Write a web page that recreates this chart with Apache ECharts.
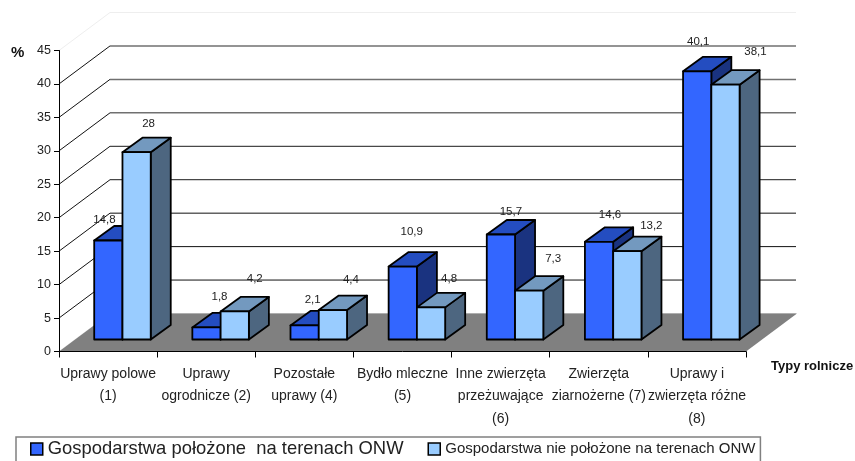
<!DOCTYPE html>
<html><head><meta charset="utf-8">
<style>html,body{margin:0;padding:0;background:#fff}#c{width:855px;height:461px}</style>
<script src="https://cdn.jsdelivr.net/npm/echarts@6/dist/echarts.min.js"></script>
</head><body><div id="c"></div>
<script>
const categories = ['Uprawy polowe\n(1)','Uprawy\nogrodnicze (2)','Pozostałe\nuprawy (4)','Bydło mleczne\n(5)','Inne zwierzęta\nprzeżuwające\n(6)','Zwierzęta\nziarnożerne (7)','Uprawy i\nzwierzęta różne\n(8)'];
const seriesOnw = [14.8,1.8,2.1,10.9,15.7,14.6,40.1];
const seriesNonOnw = [28,4.2,4.4,4.8,7.3,13.2,38.1];
const nameOnw = 'Gospodarstwa położone  na terenach ONW';
const nameNonOnw = 'Gospodarstwa nie położone na terenach ONW';
const yTicks = [0,5,10,15,20,25,30,35,40,45];
// label nudges (px from the front face's top centre)
const nudgeOnw = [[-4,-21],[13,-31],[8,-26],[9,-35],[10,-23],[11,-28],[1,-30]];
const nudgeNonOnw = [[12,-29],[20,-33],[18,-31],[18,-29],[24,-32],[24,-26],[30,-33]];

const WALL_DX = 51, WALL_DY = -38;      // projected depth of the whole floor
const BAR_DX = 20, BAR_DY = -14.5;      // projected depth of one bar
const BASE_DY = -12;                    // bars stand this far back on the floor
const BAR_SHIFT = 14.4, BAR_RATIO = 0.288;

function gridStyle(v){
  if (v === 45) return {stroke:'#eeeeee', lineWidth:1};
  if (v === 0) return {stroke:'#dddddd', lineWidth:1};
  if (v >= 30) return {stroke:'#707070', lineWidth:1.5};
  if (v >= 20) return {stroke:'#484848', lineWidth:1.2};
  return {stroke:'#111111', lineWidth:1};
}
function wallItem(params, api){
  const v = api.value(1), band = api.size([1,0])[0];
  const p0 = api.coord([0,v]), p1 = api.coord([categories.length-1,v]);
  const xl = p0[0]-band/2, xr = p1[0]+band/2, y = p0[1];
  const st = gridStyle(v);
  return {type:'group', children:[
    {type:'polyline', shape:{points:[[xl,y],[xl+WALL_DX,y+WALL_DY]]},
      style:{stroke: v===45||v===0 ? '#eeeeee' : '#111111', lineWidth:1, fill:null}},
    {type:'polyline', shape:{points:[[xl+WALL_DX,y+WALL_DY],[xr+WALL_DX-1,y+WALL_DY]]},
      style:Object.assign({fill:null},st)}
  ]};
}
function floorItem(params, api){
  const band = api.size([1,0])[0];
  const p0 = api.coord([0,0]), p1 = api.coord([categories.length-1,0]);
  const xl = p0[0]-band/2, xr = p1[0]+band/2, y = p0[1];
  return {type:'polygon', shape:{points:[[xl,y],[xr,y],[xr+WALL_DX,y+WALL_DY],[xl+WALL_DX,y+WALL_DY]]},
    style:{fill:'#808080'}};
}
function makeBar(slot, colors, nudges){
  return function(params, api){
    const cat = api.value(0), v = api.value(1);
    const band = api.size([1,0])[0], w = band*BAR_RATIO;
    const base = api.coord([cat,0]), top = api.coord([cat,v]);
    const x0 = base[0]+BAR_SHIFT-w+slot*w, x1 = x0+w;
    const yb = base[1]+BASE_DY, yt = top[1]+BASE_DY;
    const edge = {stroke:'#000', lineWidth:1.8, lineJoin:'round'};
    const n = nudges[cat];
    return {type:'group', children:[
      {type:'polygon', shape:{points:[[x1,yb],[x1+BAR_DX,yb+BAR_DY],[x1+BAR_DX,yt+BAR_DY],[x1,yt]]},
        style:Object.assign({fill:colors.side},edge)},
      {type:'polygon', shape:{points:[[x0,yt],[x1,yt],[x1+BAR_DX,yt+BAR_DY],[x0+BAR_DX,yt+BAR_DY]]},
        style:Object.assign({fill:colors.top},edge)},
      {type:'polygon', shape:{points:[[x0,yb],[x1,yb],[x1,yt],[x0,yt]]},
        style:Object.assign({fill:colors.front},edge)},
      {type:'text', z2:50, style:{text:String(v).replace('.',','), x:(x0+x1)/2+n[0], y:yt+n[1]+0.5,
        textAlign:'center', textVerticalAlign:'middle', fill:'#222', font:'11.5px "Liberation Sans"'}}
    ]};
  };
}
const blue = {front:'#3366ff', top:'#244dc0', side:'#1a3380'};
const sky = {front:'#99ccff', top:'#7399bf', side:'#4d6680'};

const chart = echarts.init(document.getElementById('c'), null, {renderer:'canvas'});
chart.setOption({
  animation:false,
  backgroundColor:'#fff',
  textStyle:{fontFamily:'"Liberation Sans"'},
  grid:{left:59, top:50.5, width:687, height:301, containLabel:false},
  xAxis:{type:'category', data:categories, z:10,
    axisLine:{lineStyle:{color:'#000', width:1}},
    axisTick:{show:true, length:6, alignWithLabel:false, lineStyle:{color:'#000'}},
    axisLabel:{interval:0, margin:11.5, fontSize:14, lineHeight:22.4, color:'#222', hideOverlap:false},
    splitLine:{show:false}},
  yAxis:{type:'value', min:0, max:45, interval:5, z:10,
    axisLine:{show:true, lineStyle:{color:'#000', width:1}},
    axisTick:{show:true, length:5, lineStyle:{color:'#000'}},
    axisLabel:{margin:8, fontSize:12.5, color:'#222'},
    splitLine:{show:false}},
  graphic:[
    {type:'text', left:771, top:360, style:{text:'Typy rolnicze', fill:'#111', font:'bold 13px "Liberation Sans"'}},
    {type:'text', left:11, top:45, style:{text:'%', fill:'#111', font:'bold 15px "Liberation Sans"'}}
  ],
  legend:{left:16, top:437, orient:'horizontal', selectedMode:false, itemWidth:12, itemHeight:12, itemGap:24,
    padding:[3,5,10,14], borderColor:'#808080', borderWidth:1.5, backgroundColor:'#fff',
    data:[
      {name:nameOnw, icon:'rect', itemStyle:{color:blue.front, borderColor:'#000', borderWidth:1.5}},
      {name:nameNonOnw, icon:'rect', itemStyle:{color:sky.front, borderColor:'#000', borderWidth:1.5}}
    ],
    formatter:n=> n===nameOnw ? '{a|'+n+'}' : '{b|'+n+'}',
    textStyle:{color:'#222', rich:{a:{fontSize:18.4, fontFamily:'"Liberation Sans"', color:'#222'}, b:{fontSize:15, fontFamily:'"Liberation Sans"', color:'#222'}}}
  },
  series:[
    {type:'custom', name:'walls', z:1, silent:true, renderItem:wallItem, encode:{x:0,y:1}, data:yTicks.map(v=>[0,v])},
    {type:'custom', name:'floor', z:2, silent:true, renderItem:floorItem, encode:{x:0,y:1}, data:[[0,0]]},
    {type:'custom', name:nameOnw, z:3, renderItem:makeBar(0,blue,nudgeOnw), encode:{x:0,y:1},
      itemStyle:{color:blue.front}, data:seriesOnw.map((v,i)=>[i,v])},
    {type:'custom', name:nameNonOnw, z:4, renderItem:makeBar(1,sky,nudgeNonOnw), encode:{x:0,y:1},
      itemStyle:{color:sky.front}, data:seriesNonOnw.map((v,i)=>[i,v])}
  ]
});
</script></body></html>
